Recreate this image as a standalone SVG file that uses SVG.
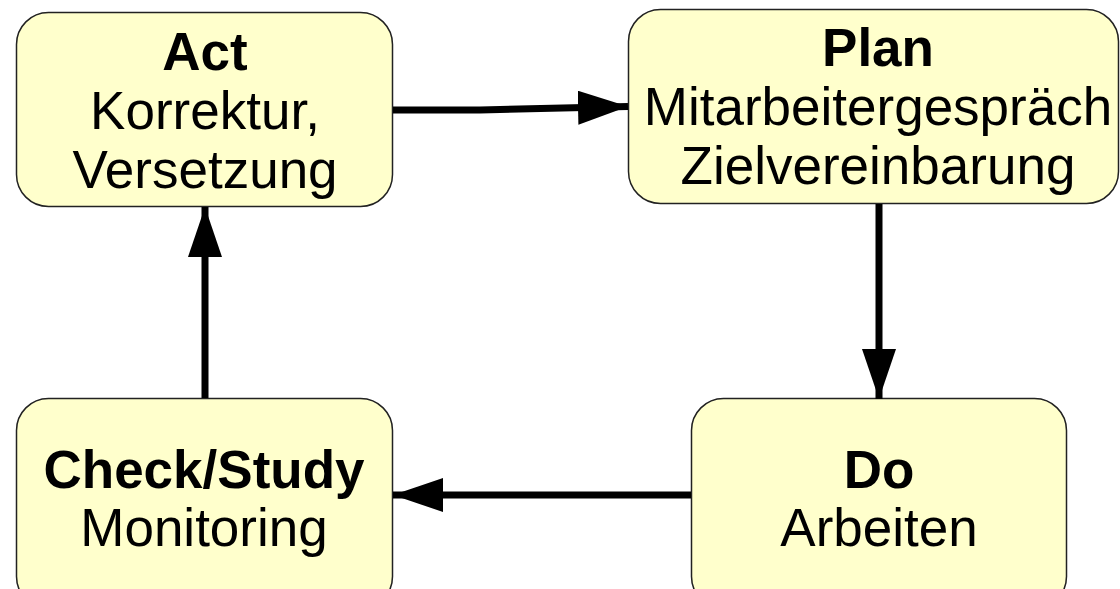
<svg xmlns="http://www.w3.org/2000/svg" width="1120" height="589" viewBox="0 0 1120 589">
  <style>
    .box { fill: #ffffcc; stroke: #222; stroke-width: 1.5; }
    .t { font-family: "Liberation Sans", Arial, sans-serif; font-size: 53px; fill: #000; text-anchor: middle; }
    .b { font-weight: bold; }
    .edge { fill: none; stroke: #000; stroke-width: 7; }
  </style>
  <defs>
    <marker id="arrow" markerUnits="userSpaceOnUse" markerWidth="52" markerHeight="36" refX="50" refY="17" orient="auto">
      <path d="M0,0 L50,17 L0,34 Z" fill="#000"/>
    </marker>
  </defs>

  <g id="node-act">
    <rect class="box" x="16.5" y="12.5" width="376" height="194" rx="32"/>
    <text class="t b" x="205" y="70">Act</text>
    <text class="t" x="205" y="129">Korrektur,</text>
    <text class="t" x="205" y="188">Versetzung</text>
  </g>

  <g id="node-plan">
    <rect class="box" x="628.5" y="9.5" width="490" height="194" rx="32"/>
    <text class="t b" x="878" y="66">Plan</text>
    <text class="t" x="878" y="125">Mitarbeitergespräch</text>
    <text class="t" x="878" y="184">Zielvereinbarung</text>
  </g>

  <g id="node-check">
    <rect class="box" x="16.5" y="398.5" width="376" height="210" rx="32"/>
    <text class="t b" x="204" y="488">Check/Study</text>
    <text class="t" x="204" y="546">Monitoring</text>
  </g>

  <g id="node-do">
    <rect class="box" x="691.5" y="398.5" width="375" height="210" rx="32"/>
    <text class="t b" x="879" y="488">Do</text>
    <text class="t" x="879" y="546">Arbeiten</text>
  </g>

  <g id="connectors">
    <path class="edge" d="M393,110 L480,110 L628,106.5" marker-end="url(#arrow)"/>
    <path class="edge" d="M879,204 L879,399" marker-end="url(#arrow)"/>
    <path class="edge" d="M691,495 L393,495" marker-end="url(#arrow)"/>
    <path class="edge" d="M205,398 L205,207" marker-end="url(#arrow)"/>
  </g>
</svg>
